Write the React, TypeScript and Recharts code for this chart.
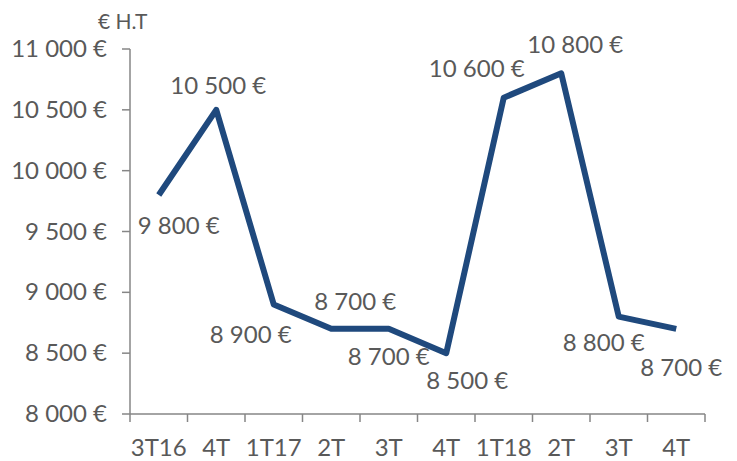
import React from 'react';
import { LineChart, Line, XAxis, YAxis, LabelList } from 'recharts';

const categories = ['3T16', '4T', '1T17', '2T', '3T', '4T', '1T18', '2T', '3T', '4T'];
const values = [9800, 10500, 8900, 8700, 8700, 8500, 10600, 10800, 8800, 8700];
const yTicks = [8000, 8500, 9000, 9500, 10000, 10500, 11000];
const unitTitle = '€ H.T';

// label offsets (dx, dy) relative to each point
const labelOffsets: [number, number][] = [
  [20, 31], [2, -24], [-23, 30], [24, -27], [0, 28],
  [21, 28], [-27, -29], [14, -28], [-15, 26], [5, 39],
];

const data = categories.map((c, i) => ({ key: i, cat: c, value: values[i] }));

const fmt = (n: number) => String(n).replace(/\B(?=(\d{3})+(?!\d))/g, ' ') + ' €';

const FONT = 'Lato, "Open Sans", sans-serif';
const TEXT = '#595959';
const AXIS = '#868686';
const LINE = '#1F497D';

const W = 737;
const H = 461;
const LEFT = 130;
const RIGHT = 32;
const TOP = 49;
const XAXIS_H = 47;
const PLOT_BOTTOM = H - XAXIS_H;
const BAND = (W - LEFT - RIGHT) / categories.length;
const FS = 24;

const XTick = (props: any) => {
  const { x, payload, index } = props;
  const bx = x - BAND / 2;
  return (
    <g>
      <line x1={bx} x2={bx} y1={PLOT_BOTTOM} y2={PLOT_BOTTOM + 8} stroke={AXIS} strokeWidth={1.5} />
      {index === categories.length - 1 && (
        <line x1={x + BAND / 2} x2={x + BAND / 2} y1={PLOT_BOTTOM} y2={PLOT_BOTTOM + 8} stroke={AXIS} strokeWidth={1.5} />
      )}
      <text x={x} y={PLOT_BOTTOM + 42} textAnchor="middle" fontFamily={FONT} fontSize={FS} fill={TEXT}>
        {categories[payload.value] ?? payload.value}
      </text>
    </g>
  );
};

const YTick = (props: any) => {
  const { y, payload } = props;
  return (
    <text x={LEFT - 23} y={y + 8} textAnchor="end" fontFamily={FONT} fontSize={FS} fill={TEXT}>
      {fmt(payload.value)}
    </text>
  );
};

const PointLabel = (props: any) => {
  const { x, y, index, value } = props;
  const [dx, dy] = labelOffsets[index] || [0, -20];
  return (
    <text x={x + dx} y={y + dy + 8} textAnchor="middle" fontFamily={FONT} fontSize={FS} fill={TEXT}>
      {fmt(value)}
    </text>
  );
};

export default function App() {
  return (
    <div style={{ position: 'absolute', left: 0, top: 0, width: W, height: H, background: '#fff' }}>
      <div
        style={{
          position: 'absolute',
          left: 98,
          top: 7,
          fontFamily: FONT,
          fontSize: 21,
          color: TEXT,
          lineHeight: '28px',
          whiteSpace: 'nowrap',
        }}
      >
        {unitTitle}
      </div>
      <LineChart width={W} height={H} data={data} margin={{ top: TOP, right: RIGHT, bottom: 0, left: 0 }}>
        <XAxis
          dataKey="key"
          type="category"
          height={XAXIS_H}
          stroke={AXIS}
          strokeWidth={1.5}
          tickLine={false}
          tick={<XTick />}
          interval={0}
          padding={{ left: BAND / 2, right: BAND / 2 }}
        />
        <YAxis
          width={LEFT}
          domain={[8000, 11000]}
          ticks={yTicks}
          stroke={AXIS}
          strokeWidth={1.5}
          tickSize={8}
          tickLine={{ stroke: AXIS, strokeWidth: 1.5 }}
          tick={<YTick />}
          allowDataOverflow
        />
        <Line
          type="linear"
          dataKey="value"
          stroke={LINE}
          strokeWidth={6}
          strokeLinejoin="round"
          dot={false}
          activeDot={false}
          isAnimationActive={false}
        >
          <LabelList dataKey="value" content={<PointLabel />} />
        </Line>
      </LineChart>
    </div>
  );
}
